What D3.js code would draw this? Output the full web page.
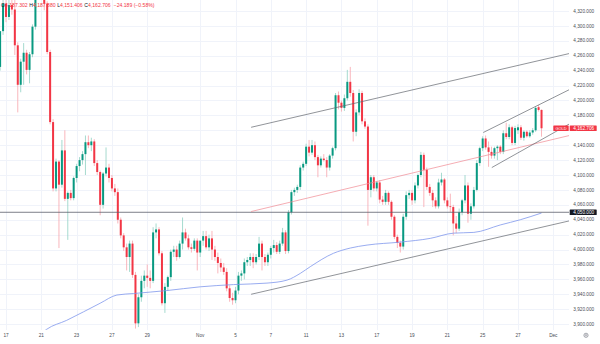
<!DOCTYPE html>
<html><head><meta charset="utf-8">
<script src="https://cdn.jsdelivr.net/npm/d3@7/dist/d3.min.js"></script>
<style>
html,body{margin:0;padding:0;background:#ffffff;}
svg{display:block;font-family:"Liberation Sans",Arial,sans-serif;}
</style></head><body>
<svg id="chart" width="600" height="344"></svg>
<script>
// ---------- DATA (4H GOLD candles, bar 0 = first bar of Oct 17) ----------
const firstBar = -2;
const open = [4245,4293,4330,4312,4328,4322,4274,4221,4252,4264,4241,4262,4299,4345,4365,4360,4330,4265,4171,4082,4118,4087,4133,4068,4076,4069,4096,4112,4120,4128,4144,4140,4145,4116,4104,4060,4102,4110,4096,4082,4077,4040,4019,4003,3990,4008,3966,3901,3936,3958,3965,3962,3958,4023,4027,3995,3928,3950,3963,3997,4000,3990,4008,4023,4015,4003,4001,4012,3996,4012,4018,4003,4015,4000,3990,3982,3976,3970,3948,3935,3932,3945,3965,3968,3983,3986,3990,3983,3990,4008,3990,3983,3993,4002,4006,3997,4008,4023,3998,4050,4077,4080,4084,4110,4115,4138,4130,4140,4124,4113,4122,4120,4110,4126,4136,4207,4197,4190,4203,4225,4210,4158,4184,4210,4172,4165,4080,4097,4082,4090,4067,4064,4076,4064,4044,4017,4009,4004,4044,4073,4076,4066,4086,4100,4127,4107,4084,4076,4066,4058,4090,4094,4066,4058,4057,4035,4028,4050,4066,4086,4048,4058,4080,4116,4136,4149,4137,4131,4126,4136,4138,4131,4156,4151,4164,4143,4160,4164,4150,4158,4152,4157,4160,4191,4187.302];
const high = [4250,4340,4345,4340,4345,4338,4278,4256,4277,4268,4265,4302,4350,4372,4381,4365,4333,4268,4175,4122,4120,4147,4160,4078,4080,4098,4115,4124,4132,4153,4153,4150,4148,4120,4106,4104,4137,4115,4100,4088,4082,4043,4022,4008,4012,4012,3970,3940,3965,3972,3980,3972,4030,4035,4030,3998,3955,3965,4000,4005,4005,4012,4043,4028,4020,4008,4015,4015,4010,4025,4025,4020,4025,4005,3996,3988,3982,3975,3952,3942,3950,3970,3972,3988,3990,3995,3995,3994,4017,4012,3994,3996,4005,4013,4010,4012,4029,4026,4053,4080,4083,4087,4113,4118,4142,4147,4147,4145,4127,4125,4128,4124,4128,4138,4210,4212,4200,4208,4241,4245,4214,4188,4215,4213,4176,4168,4100,4100,4092,4093,4072,4080,4078,4066,4046,4020,4012,4048,4078,4080,4080,4090,4102,4131,4130,4110,4088,4080,4070,4095,4103,4096,4070,4075,4060,4045,4055,4068,4100,4090,4062,4084,4120,4138,4152,4153,4145,4138,4138,4140,4140,4160,4170,4168,4166,4166,4168,4167,4160,4160,4160,4163,4192,4194,4187.88];
const low = [4240,4288,4305,4308,4315,4261,4184,4211,4221,4235,4223,4258,4295,4340,4345,4321,4262,4168,4078,4078,4002,4083,4065,4013,4066,4066,4090,4105,4114,4100,4136,4132,4112,4100,4046,4055,4098,4090,4078,4072,4035,4015,3998,3972,3970,3962,3894,3896,3930,3948,3950,3948,3955,4015,3992,3925,3915,3945,3958,3990,3985,3988,4000,4012,4000,3996,3998,3972,3990,4005,4000,3998,3986,3985,3968,3970,3966,3944,3930,3926,3928,3940,3958,3960,3978,3978,3975,3980,3986,3972,3978,3978,3988,3996,3994,3994,4005,3994,3995,4047,4072,4076,4080,4106,4112,4125,4127,4120,4097,4110,4118,4097,4106,4122,4133,4188,4185,4186,4200,4205,4145,4152,4180,4168,4162,4032,4070,4078,4078,4062,4060,4060,4060,4040,4014,4002,3996,4000,4040,4068,4060,4062,4082,4097,4057,4080,4072,4057,4055,4055,4086,4062,4055,4050,4019,4022,4025,4046,4062,4036,4040,4055,4078,4112,4132,4134,4111,4122,4122,4120,4128,4128,4148,4148,4140,4140,4155,4147,4146,4150,4150,4154,4158,4185,4151.406];
const close = [4293,4330,4312,4328,4322,4274,4221,4252,4264,4241,4262,4299,4345,4365,4360,4330,4265,4171,4082,4118,4087,4133,4068,4076,4069,4096,4112,4120,4128,4144,4140,4145,4116,4104,4060,4102,4110,4096,4082,4077,4040,4019,4003,3990,4008,3966,3901,3936,3958,3965,3962,3958,4023,4027,3995,3928,3950,3963,3997,4000,3990,4008,4023,4015,4003,4001,4012,3996,4012,4018,4003,4015,4000,3990,3982,3976,3970,3948,3935,3932,3945,3965,3968,3983,3986,3990,3983,3990,4008,3990,3983,3993,4002,4006,3997,4008,4023,3998,4050,4077,4080,4084,4110,4115,4138,4130,4140,4124,4113,4122,4120,4110,4126,4136,4207,4197,4190,4203,4225,4210,4158,4184,4210,4172,4165,4080,4097,4082,4090,4067,4064,4076,4064,4044,4017,4009,4004,4044,4073,4076,4066,4086,4100,4127,4107,4084,4076,4066,4058,4090,4094,4066,4058,4057,4035,4028,4050,4066,4086,4048,4058,4080,4116,4136,4149,4137,4131,4126,4136,4138,4131,4156,4151,4164,4143,4163,4164,4150,4158,4152,4157,4160,4190,4187.302,4162.706];

// time axis labels (bar index of first bar of each labelled day)
const timeLabels = ["17","21","23","27","29","Nov","5","7","11","13","17","19","21","25","27","Dec"];
const timeLabelBars = [0,12,24,36,48,66,78,90,102,114,126,138,150,162,174,186];

// price axis ticks
const priceTicks = [3900,3920,3940,3960,3980,4000,4020,4040,4060,4080,4100,4120,4140,4160,4180,4200,4220,4240,4260,4280,4300,4320];

// moving average
const maBars   = [10,13.8,20.6,32,37.7,43.3,54.7,66,77.3,88.7,95.5,100,103.4,111.3,117,122.7,134,144.2,152.1,159,168,174.8,182];
const maValues = [3880,3893,3905,3928,3939,3941,3945,3950,3953,3955,3959,3968,3977,3995,4002,4006,4010,4015,4022,4023,4033,4040,4049];

// drawn trend lines (bar index / price)
const lineKind       = ["channel","channel","mid","small","small"];
const lineStartBar   = [83.3,83.3,83.3,162.2,165.1];
const lineStartPrice = [4164,3940,4051,4157,4110];
const lineEndBar     = [191.5,191.5,191.5,191.7,191.7];
const lineEndPrice   = [4263,4038.5,4153,4215,4169];

const levelPrice = 4050;
const symbolName = "GOLD";
const lastPrice = 4162.706;
const legendKeys = ["O","H","L","C"];
const legendVals = ["4,187.302","4,187.880","4,151.406","4,162.706"];
const legendChange = "\u221224.189 (\u22120.58%)";

// ---------- CHART ----------
const plotRight = 569, plotBottom = 330;
const svg = d3.select("#chart");

const x = d3.scaleLinear().domain([0, 186]).range([6, 553.3]);
const y = d3.scaleLinear().domain([3900, 4320]).range([324.1, 11]);
const fmt = d3.format(",.3f");

const UP = "#089981", DOWN = "#f23645";
const UPWICK = "#8fd0c3", DOWNWICK = "#f7a5ac";

svg.append("defs").append("clipPath").attr("id","plot")
  .append("rect").attr("x",0).attr("y",0).attr("width",plotRight).attr("height",plotBottom);

const grid = svg.append("g");
grid.selectAll("line.h").data(priceTicks).enter().append("line")
  .attr("x1",0).attr("x2",plotRight)
  .attr("y1",d=>Math.round(y(d))+0.5).attr("y2",d=>Math.round(y(d))+0.5)
  .attr("stroke","#f0f3fa").attr("stroke-width",1);
grid.selectAll("line.v").data(timeLabelBars).enter().append("line")
  .attr("y1",0).attr("y2",plotBottom)
  .attr("x1",d=>Math.round(x(d))+0.5).attr("x2",d=>Math.round(x(d))+0.5)
  .attr("stroke","#f0f3fa").attr("stroke-width",1);

const plot = svg.append("g").attr("clip-path","url(#plot)");

const bars = open.map((o,k)=>({i:k+firstBar,o:o,h:high[k],l:low[k],c:close[k]}));

// wicks
plot.append("g").selectAll("line").data(bars).enter().append("line")
  .attr("x1",d=>x(d.i)).attr("x2",d=>x(d.i))
  .attr("y1",d=>y(d.h)).attr("y2",d=>y(d.l))
  .attr("stroke",d=>d.c>=d.o?UPWICK:DOWNWICK).attr("stroke-width",0.8);
// bodies
const bw = 2.0;
plot.append("g").selectAll("rect").data(bars).enter().append("rect")
  .attr("x",d=>x(d.i)-bw/2).attr("width",bw)
  .attr("y",d=>y(Math.max(d.o,d.c)))
  .attr("height",d=>Math.max(0.7, Math.abs(y(d.o)-y(d.c))))
  .attr("fill",d=>d.c>=d.o?UP:DOWN);

// moving average
plot.append("path")
  .datum(maBars.map((b,k)=>[b,maValues[k]]))
  .attr("d", d3.line().x(d=>x(d[0])).y(d=>y(d[1])).curve(d3.curveMonotoneX))
  .attr("fill","none").attr("stroke","#7f97ec").attr("stroke-width",0.8);

// horizontal level
plot.append("line").attr("x1",0).attr("x2",plotRight)
  .attr("y1",y(levelPrice)).attr("y2",y(levelPrice))
  .attr("stroke","#5d606b").attr("stroke-width",0.8);

// trend lines
const lineColor = {channel:"#62656d", mid:"#f08a92", small:"#62656d"};
plot.append("g").selectAll("line").data(lineKind).enter().append("line")
  .attr("x1",(d,k)=>x(lineStartBar[k])).attr("y1",(d,k)=>y(lineStartPrice[k]))
  .attr("x2",(d,k)=>x(lineEndBar[k])).attr("y2",(d,k)=>y(lineEndPrice[k]))
  .attr("stroke",d=>lineColor[d]).attr("stroke-width",0.7);

// price axis labels
const fs = 4.7;
svg.append("g").selectAll("text").data(priceTicks.filter(p=>Math.abs(y(p)-y(lastPrice))>4)).enter().append("text")
  .attr("x",573.3).attr("y",d=>y(d)+1.6)
  .attr("font-size",fs).attr("fill","#4a4d55").text(d=>fmt(d));

// last price labels
const ly = y(lastPrice);
svg.append("rect").attr("x",553.3).attr("y",ly-2.8).attr("width",15.4).attr("height",5.6).attr("rx",0.6).attr("fill",DOWN);
svg.append("text").attr("x",561).attr("y",ly+1.5).attr("text-anchor","middle").attr("font-size",3.9).attr("fill","#fff").text(symbolName);
svg.append("rect").attr("x",569.7).attr("y",ly-2.8).attr("width",27).attr("height",5.6).attr("rx",0.6).attr("fill",DOWN);
svg.append("text").attr("x",573.3).attr("y",ly+1.6).attr("font-size",fs).attr("fill","#fff").text(fmt(lastPrice));

// level label
const vy = y(levelPrice);
svg.append("rect").attr("x",569.7).attr("y",vy-2.8).attr("width",27).attr("height",5.6).attr("rx",0.6).attr("fill","#131722");
svg.append("text").attr("x",573.3).attr("y",vy+1.6).attr("font-size",fs).attr("fill","#fff").text(fmt(levelPrice));

// time axis labels
svg.append("g").selectAll("text").data(timeLabels).enter().append("text")
  .attr("x",(d,k)=>x(timeLabelBars[k])).attr("y",337.3)
  .attr("text-anchor","middle").attr("font-size",4.7).attr("fill","#4a4d55").text(d=>d);

// settings icon
svg.append("circle").attr("cx",586).attr("cy",335.3).attr("r",2.1).attr("fill","none").attr("stroke","#6a6d78").attr("stroke-width",0.6);
svg.append("circle").attr("cx",586).attr("cy",335.3).attr("r",0.8).attr("fill","none").attr("stroke","#6a6d78").attr("stroke-width",0.5);

// legend
const leg = svg.append("text").attr("x",1).attr("y",6.8).attr("font-size",5.1);
legendKeys.forEach((k,j)=>{
  leg.append("tspan").attr("dx", j===0?0:1.6).attr("fill","#131722").text(k);
  leg.append("tspan").attr("fill",DOWN).text(legendVals[j]);
});
leg.append("tspan").attr("dx",3).attr("fill",DOWN).text(legendChange);
</script>
</body></html>
